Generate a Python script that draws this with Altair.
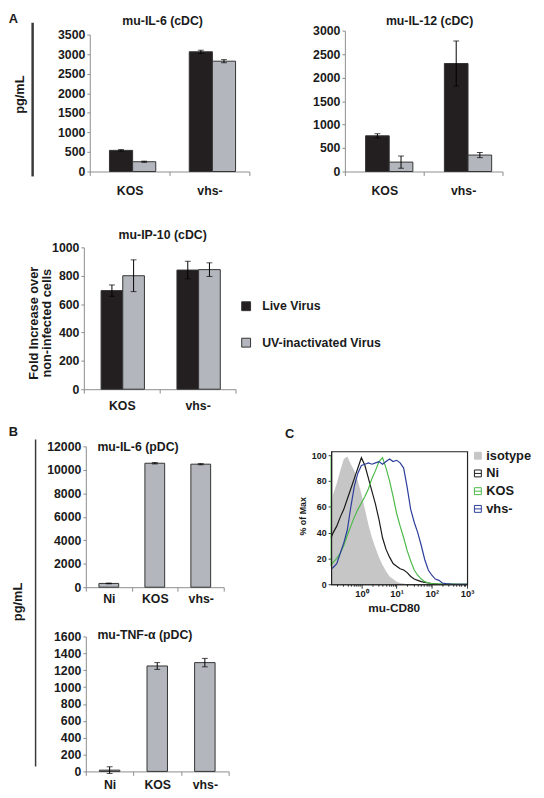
import altair as alt
import pandas as pd

FONT = "Liberation Sans"
W, H = 526, 780          # whole canvas (page = chart + 13 px)
INK = "#1a1a1a"
AXC = "#8c8c8c"

# ---------------- data ----------------
a_cats = ["KOS", "vhs-"]
a_series = ["Live Virus", "UV-inactivated Virus"]
a_colors = ["#231f20", "#b3b7bd"]

# order: KOS-Live, KOS-UV, vhs-Live, vhs-UV
il6_cdc_mean = [540, 250, 3060, 2820]
il6_cdc_err = [20, 15, 40, 40]
il12_cdc_mean = [760, 200, 2300, 350]
il12_cdc_err = [45, 130, 480, 55]
ip10_cdc_mean = [695, 800, 840, 843]
ip10_cdc_err = [40, 112, 62, 48]

b_cats = ["Ni", "KOS", "vhs-"]
il6_pdc_mean = [320, 10560, 10480]
il6_pdc_err = [30, 60, 50]
tnf_pdc_mean = [15, 1250, 1290]
tnf_pdc_err = [40, 40, 50]

flow_samples = ["isotype", "Ni", "KOS", "vhs-"]
flow_fill = ["#c6c6c6", "#ffffff", "#ffffff", "#ffffff"]
flow_stroke = ["#c6c6c6", "#1a1a1a", "#4cb848", "#2b3d9a"]
cd80_exp = [-0.86, -0.8, -0.7, -0.6, -0.5, -0.4, -0.3, -0.2, -0.1, 0.0,
            0.1, 0.2, 0.3, 0.4, 0.5, 0.6, 0.7, 0.8, 0.9, 1.0,
            1.1, 1.2, 1.3, 1.4, 1.5, 1.6, 1.7, 1.8, 1.9, 2.0,
            2.1, 2.2, 2.3, 2.4, 2.6, 2.8, 3.0]
iso_pct = [62, 70, 78, 88, 97, 99, 93, 88, 80, 70,
           58, 46, 36, 28, 21, 15, 10, 6, 4, 2,
           1, 0.5, 0, 0, 0, 0, 0, 0, 0, 0,
           0, 0, 0, 0, 0, 0, 0]
ni_pct = [36, 40, 45, 52, 58, 66, 74, 82, 90, 98,
          92, 82, 72, 62, 50, 36, 27, 21, 16, 14,
          12, 11, 9, 6, 4, 3, 2, 1.5, 1, 0.5,
          0.3, 0, 0, 0, 0, 0, 0]
kos_spike = 100
kos_pct = [15, 17, 20, 24, 30, 38, 45, 52, 58, 63,
           68, 74, 82, 88, 95, 98, 90, 80, 68, 55,
           45, 36, 26, 18, 11, 7, 4, 2, 1, 0.5,
           0.4, 0.3, 0.2, 0.2, 0.1, 0, 0]
vhs_pct = [12, 13, 16, 24, 32, 42, 60, 76, 86, 92,
           93, 94, 93, 94, 95, 93, 95, 97, 95, 96,
           94, 90, 75, 58, 48, 40, 30, 19, 11, 7,
           4, 3, 1, 0.5, 0, 0, 0]
c_xdom = [0.138, 1000]
c_ydom = [0, 103]
C_X = [323, 461]     # pixel extent of panel C plot box
C_Y = [574, 439]


# ---------------- helpers ----------------
def y_axis(x_pos, values, size=12.5):
    return alt.Axis(orient="left", offset=-x_pos, values=values, format="d",
                    tickSize=3, labelPadding=2, labelFontSize=size,
                    labelFlush=False, labelOverlap=False, title=None)


def x_axis(y_pos, pad, size=12.5):
    return alt.Axis(orient="bottom", offset=y_pos - H, tickBand="extent",
                    tickSize=4, labelPadding=pad, labelFontSize=size,
                    labelAngle=0, title=None)


def grouped_panel(means, errs, x_range, y_range, y_max, y_step, x_pad,
                  pair_width, shift, legend):
    rows = []
    k = 0
    for c in a_cats:
        for s in a_series:
            rows.append({"cat": c, "series": s, "mean": means[k],
                         "lo": means[k] - errs[k], "hi": means[k] + errs[k]})
            k += 1
    df = pd.DataFrame(rows)
    xs = alt.Scale(domain=a_cats, range=x_range, paddingInner=0, paddingOuter=0)
    band = (x_range[1] - x_range[0]) / len(a_cats)
    step = pair_width / 2
    pad_out = (band / step - 2) / 2
    xos = alt.Scale(domain=a_series, range=[shift, band + shift],
                    paddingInner=0, paddingOuter=pad_out)
    ys = alt.Scale(domain=[0, y_max], range=y_range, nice=False)
    yvals = list(range(0, y_max + 1, y_step))
    xa = x_axis(y_range[0], x_pad)
    ya = y_axis(x_range[0], yvals)
    base = alt.Chart(df)
    xenc = alt.X("cat:N", scale=xs, axis=xa)
    xoenc = alt.XOffset("series:N", scale=xos)
    bars = base.mark_bar(stroke="#333333", strokeWidth=1).encode(
        x=xenc, xOffset=xoenc,
        y=alt.Y("mean:Q", scale=ys, axis=ya),
        color=alt.Color("series:N", scale=alt.Scale(domain=a_series, range=a_colors),
                        legend=legend),
    )
    rule = base.mark_rule(color="black", strokeWidth=1).encode(
        x=xenc, xOffset=xoenc,
        y=alt.Y("lo:Q", scale=ys, axis=ya),
        y2="hi:Q",
    )
    caps = base.transform_fold(["lo", "hi"], as_=["end", "val"]).mark_tick(
        color="black", thickness=1, size=6).encode(
        x=xenc, xOffset=xoenc,
        y=alt.Y("val:Q", scale=ys, axis=ya),
    )
    return alt.layer(bars, rule, caps)


def single_panel(means, errs, x_range, y_range, y_max, y_step, x_pad):
    df = pd.DataFrame({"cat": b_cats, "mean": means,
                       "lo": [m - e for m, e in zip(means, errs)],
                       "hi": [m + e for m, e in zip(means, errs)]})
    xs = alt.Scale(domain=b_cats, range=x_range, paddingInner=0, paddingOuter=0)
    ys = alt.Scale(domain=[0, y_max], range=y_range, nice=False)
    yvals = list(range(0, y_max + 1, y_step))
    xa = x_axis(y_range[0], x_pad)
    ya = y_axis(x_range[0], yvals)
    xenc = alt.X("cat:N", scale=xs, axis=xa)
    base = alt.Chart(df)
    bars = base.mark_bar(color="#b3b7bd", stroke="#333333", strokeWidth=1,
                         width=alt.RelativeBandSize(0.43)).encode(
        x=xenc, y=alt.Y("mean:Q", scale=ys, axis=ya),
    )
    rule = base.mark_rule(color="black", strokeWidth=1).encode(
        x=xenc, y=alt.Y("lo:Q", scale=ys, axis=ya), y2="hi:Q",
    )
    caps = base.transform_fold(["lo", "hi"], as_=["end", "val"]).mark_tick(
        color="black", thickness=1, size=6).encode(
        x=xenc, y=alt.Y("val:Q", scale=ys, axis=ya),
    )
    return alt.layer(bars, rule, caps)


def label(text, x, y, size=12.5, angle=0, weight="bold", line_height=None):
    kw = {}
    if line_height is not None:
        kw = {"lineBreak": "\n", "lineHeight": line_height}
    return alt.Chart(pd.DataFrame({"k": [0]})).mark_text(
        text=text, font=FONT, fontSize=size, fontWeight=weight, angle=angle,
        align="center", baseline="middle", color=INK, **kw).encode(
        x=alt.value(x), y=alt.value(y))


def vline(x, y0, y1, width, color="#3a3a3a"):
    return alt.Chart(pd.DataFrame({"k": [0]})).mark_rule(
        color=color, strokeWidth=width).encode(
        x=alt.value(x), y=alt.value(y0), y2=alt.value(y1))


def box(x0, x1, y0, y1, width, color="#222222"):
    return alt.Chart(pd.DataFrame({"k": [0]})).mark_rect(
        filled=False, color=color, strokeWidth=width).encode(
        x=alt.value(x0), x2=alt.value(x1), y=alt.value(y0), y2=alt.value(y1))


# ---------------- panel A ----------------
legend_a = alt.Legend(orient="none", legendX=230.5, legendY=285.5, title=None,
                      padding=0, symbolType="square", symbolSize=81,
                      symbolStrokeColor="#333333", symbolStrokeWidth=1,
                      labelFontSize=12.5, labelOffset=10, rowPadding=23)
a1 = grouped_panel(il6_cdc_mean, il6_cdc_err, [78, 240], [155, 16], 3500, 500, 9,
                   47, 3, legend_a)
a2 = grouped_panel(il12_cdc_mean, il12_cdc_err, [337, 497], [155, 12], 3000, 500, 9,
                   48, 5, legend_a)
a3 = grouped_panel(ip10_cdc_mean, ip10_cdc_err, [72, 226], [376, 232], 1000, 200, 7,
                   44, 1, legend_a)

# ---------------- panel B ----------------
b1 = single_panel(il6_pdc_mean, il6_pdc_err, [74, 214], [577, 434], 12000, 2000, 2)
b2 = single_panel(tnf_pdc_mean, tnf_pdc_err, [74, 219], [764, 627], 1600, 200, 3)

# ---------------- panel C ----------------
rows = []
for e, v in zip(cd80_exp, iso_pct):
    rows.append({"sample": "isotype", "x": 10 ** e, "pct": v})
iso_df = pd.DataFrame(rows)
rows = []
for name, vals in [("Ni", ni_pct), ("KOS", kos_pct), ("vhs-", vhs_pct)]:
    idx = 0
    if name == "KOS":
        rows.append({"sample": name, "x": 10 ** cd80_exp[0], "pct": kos_spike, "idx": idx})
        idx += 1
    for e, v in zip(cd80_exp, vals):
        rows.append({"sample": name, "x": 10 ** e, "pct": v, "idx": idx})
        idx += 1
lines_df = pd.DataFrame(rows)

majors = [1, 10, 100, 1000]
minors = [m * d for d in [0.1, 1, 10, 100] for m in range(2, 10)]
xs_c = alt.Scale(type="log", domain=c_xdom, range=C_X, nice=False)
ys_c = alt.Scale(domain=c_ydom, range=C_Y, nice=False)
x_axis_c = alt.Axis(
    orient="bottom", offset=C_Y[0] - H, values=majors + minors,
    domainColor="#111111", domainWidth=1.2, tickColor="#333333",
    tickSize={"condition": {"test": "datum.value == 1 || datum.value == 10 || datum.value == 100 || datum.value == 1000", "value": 4}, "value": 2},
    labelExpr="datum.value == 1 ? '10⁰' : datum.value == 10 ? '10¹' : datum.value == 100 ? '10²' : datum.value == 1000 ? '10³' : ''",
    labelFontSize=9.5, labelPadding=0, labelOverlap=False, labelFlush=False, title=None)
y_axis_c = alt.Axis(orient="left", offset=-C_X[0], values=[0, 20, 40, 60, 80, 100],
                    domainColor="#111111", domainWidth=1.2, tickColor="#333333",
                    tickSize=3, labelPadding=2,
                    labelFontSize=9, labelFlush=False, labelOverlap=False, title=None)
legend_c = alt.Legend(orient="none", legendX=465.5, legendY=437, title=None, padding=0,
                      symbolType="M-1,-1H1V1H-1ZM-1,0H1", symbolSize=49,
                      symbolStrokeWidth=1, labelFontSize=13, labelOffset=2, rowPadding=4)

area = alt.Chart(iso_df).mark_area(opacity=1).encode(
    x=alt.X("x:Q", scale=xs_c, axis=x_axis_c),
    y=alt.Y("pct:Q", scale=ys_c, axis=y_axis_c),
    fill=alt.Fill("sample:N", scale=alt.Scale(domain=flow_samples, range=flow_fill),
                  legend=legend_c),
)
lines = alt.Chart(lines_df).mark_line(strokeWidth=1.2).encode(
    x=alt.X("x:Q", scale=xs_c, axis=x_axis_c),
    y=alt.Y("pct:Q", scale=ys_c, axis=y_axis_c),
    stroke=alt.Stroke("sample:N", scale=alt.Scale(domain=flow_samples, range=flow_stroke),
                      legend=legend_c),
    order="idx:Q",
)
c = alt.layer(area, lines)

# ---------------- decorations ----------------
deco = alt.layer(
    label("A", 0.5, 0, 13),
    label("mu-IL-6 (cDC)", 152, 2),
    label("mu-IL-12 (cDC)", 423, 2),
    label("pg/mL", 7, 77, 13, angle=270),
    vline(20, 4, 160, 2.5),
    label("mu-IP-10 (cDC)", 152, 220),
    label("Fold Increase over\nnon-infected cells", 21, 309, 13, angle=270, line_height=14),
    label("B", 0.5, 419, 13),
    label("mu-IL-6 (pDC)", 127, 435),
    label("mu-TNF-α (pDC)", 134, 626),
    label("pg/mL", 5, 592, 13, angle=270),
    vline(23, 427, 759, 1.5),
    label("C", 281, 422, 13),
    label("% of Max", 295, 505, 9, angle=270),
    label("mu-CD80", 387, 598, 12),
    # outline of the flow-cytometry plot box
    box(C_X[0] + 0.5, C_X[1] + 0.5, C_Y[1] + 0.5, C_Y[0] + 0.5, 1.2),
)

chart = alt.layer(a1, a2, a3, b1, b2, c, deco).resolve_scale(
    x="independent", y="independent", xOffset="independent"
).properties(
    width=W, height=H, padding=5,
    autosize=alt.AutoSizeParams(type="none"),
).configure_view(stroke=None).configure_axis(
    labelFont=FONT, labelFontWeight="bold", labelColor=INK,
    domainColor=AXC, tickColor=AXC, grid=False,
).configure_legend(
    labelFont=FONT, labelFontWeight="bold", labelColor=INK,
)

chart.save("out.html", embed_options={"renderer": "svg", "actions": False})
